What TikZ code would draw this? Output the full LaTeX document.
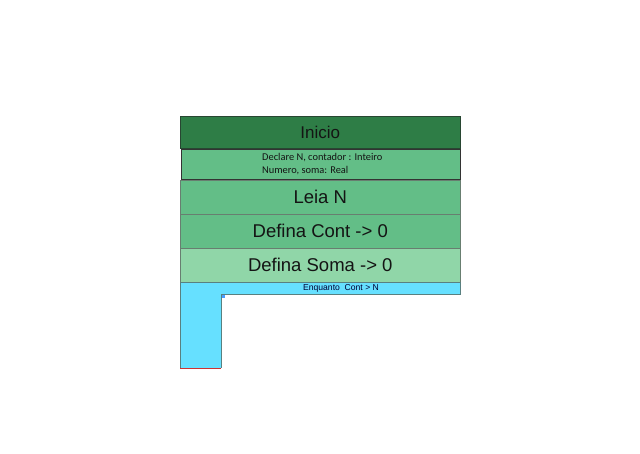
\documentclass[tikz,border=0pt]{standalone}
\usepackage{fontspec}
\setmainfont{Liberation Sans}
\newfontfamily\calib{Carlito}
\definecolor{dkgreen}{RGB}{46,125,70}
\definecolor{mdgreen}{RGB}{99,190,135}
\definecolor{ltgreen}{RGB}{144,214,168}
\definecolor{cyanbox}{RGB}{102,224,255}
\definecolor{edge}{RGB}{40,70,50}
\definecolor{txt}{RGB}{20,20,20}
\begin{document}
\begin{tikzpicture}[x=1pt,y=-1pt,
  blk/.style={draw=edge, line width=0.6pt, anchor=north west, inner sep=0pt, text=txt,
    minimum width=280pt, font=\fontsize{18.5}{21}\selectfont},
]
\useasboundingbox (0,0) rectangle (640,453);
\node[blk, fill=dkgreen, minimum height=32pt, font=\fontsize{17}{20}\selectfont] (ini) at (180,116) {Inicio};
\node[blk, fill=mdgreen, minimum width=279pt, minimum height=30pt, line width=1pt, draw=black!80] (dec) at (181,149) {};
\node[anchor=west, align=left, font=\calib\fontsize{10.4}{13}\selectfont, text=txt, inner sep=0pt] (dectxt) at (262,164) {Declare N, contador : Inteiro\\Numero, soma: Real};
\node[blk, fill=mdgreen, minimum height=34pt, draw=edge!70] (leia) at (180,180) {Leia N};
\node[blk, fill=mdgreen, minimum height=34pt, draw=edge!70] (cont) at (180,214) {Defina Cont -> 0};
\node[blk, fill=ltgreen, minimum height=34pt, draw=edge!70] (soma) at (180,248) {Defina Soma -> 0};
\coordinate (a) at (180,282);
\coordinate (b) at (460,282);
\coordinate (c) at (460,294);
\coordinate (d) at (221,294);
\coordinate (e) at (221,368);
\coordinate (f) at (180,368);
\fill[cyanbox] (a) -- (b) -- (c) -- (d) -- (e) -- (f) -- cycle;
\draw[gray!70!teal, line width=0.7pt] (a) -- (b) -- (c) -- (d) -- (e);
\draw[gray!70!teal, line width=0.7pt] (f) -- (a);
\draw[red!60!gray, line width=0.8pt] (f) -- (e);
\node[font=\fontsize{8.6}{10}\selectfont, text=black!80!blue, inner sep=0pt] (enq) at (341,288.5) {Enquanto\ \ Cont > N};
\fill[cyanbox!70!blue] (222,295) rectangle (225,298);
\end{tikzpicture}
\end{document}
